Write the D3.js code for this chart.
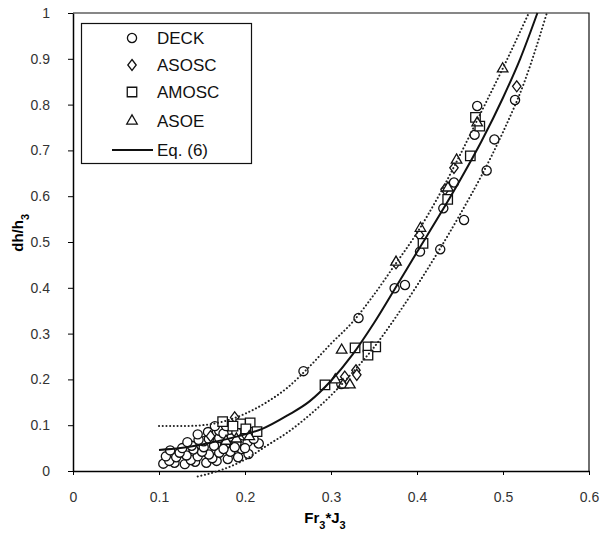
<!DOCTYPE html>
<html>
<head>
<meta charset="utf-8">
<script src="https://cdn.jsdelivr.net/npm/d3@7"></script>
<style>
  body { margin: 0; background: #fff; }
  text { font-family: Arial, "Liberation Sans", sans-serif; }
</style>
</head>
<body>
<div id="chart"></div>
<script>
// values
const xTicks = [0, 0.1, 0.2, 0.3, 0.4, 0.5, 0.6]
const xTickLabels = ["0", "0.1", "0.2", "0.3", "0.4", "0.5", "0.6"]
const yTicks = [0, 0.1, 0.2, 0.3, 0.4, 0.5, 0.6, 0.7, 0.8, 0.9, 1]
const yTickLabels = ["0", "0.1", "0.2", "0.3", "0.4", "0.5", "0.6", "0.7", "0.8", "0.9", "1"]

const deck = [
  [0.105, 0.016], [0.118, 0.018], [0.13, 0.015], [0.142, 0.02], [0.155, 0.018], [0.167, 0.022],
  [0.18, 0.026], [0.192, 0.03], [0.204, 0.037],
  [0.112, 0.022], [0.137, 0.024], [0.162, 0.028],
  [0.108, 0.032], [0.12, 0.03], [0.132, 0.034], [0.145, 0.032], [0.158, 0.036], [0.17, 0.04],
  [0.183, 0.042], [0.196, 0.048], [0.124, 0.04], [0.15, 0.042],
  [0.113, 0.045], [0.127, 0.05], [0.14, 0.047], [0.152, 0.052], [0.164, 0.055], [0.177, 0.058],
  [0.19, 0.06], [0.203, 0.063], [0.216, 0.06], [0.175, 0.048], [0.188, 0.052], [0.2, 0.05],
  [0.138, 0.055], [0.152, 0.065], [0.21, 0.07],
  [0.133, 0.063], [0.146, 0.068], [0.158, 0.07], [0.17, 0.072], [0.183, 0.075], [0.197, 0.078],
  [0.145, 0.08], [0.157, 0.085], [0.17, 0.088], [0.182, 0.09], [0.175, 0.082], [0.19, 0.085],
  [0.165, 0.098], [0.178, 0.098],
  [0.268, 0.218], [0.312, 0.19], [0.332, 0.334],
  [0.374, 0.399], [0.386, 0.406], [0.4035, 0.479], [0.427, 0.484], [0.4306, 0.5735],
  [0.443, 0.63], [0.4547, 0.548], [0.467, 0.734], [0.47, 0.797], [0.481, 0.656],
  [0.49, 0.724], [0.514, 0.81]
]
const asosc = [
  [0.188, 0.117], [0.16, 0.076], [0.2, 0.08],
  [0.316, 0.206], [0.329, 0.22], [0.33, 0.21],
  [0.3756, 0.4535], [0.403, 0.515], [0.4326, 0.615], [0.443, 0.662], [0.516, 0.84]
]
const amosc = [
  [0.174, 0.108], [0.195, 0.103], [0.206, 0.105], [0.214, 0.086], [0.186, 0.098], [0.201, 0.092],
  [0.293, 0.188], [0.328, 0.269], [0.343, 0.271], [0.352, 0.271], [0.343, 0.253],
  [0.407, 0.497], [0.4357, 0.593], [0.462, 0.688], [0.468, 0.772], [0.473, 0.753]
]
const asoe = [
  [0.19, 0.07], [0.205, 0.075], [0.178, 0.065],
  [0.305, 0.199], [0.3124, 0.264], [0.314, 0.188], [0.322, 0.188],
  [0.3756, 0.456], [0.404, 0.53], [0.436, 0.618], [0.446, 0.679], [0.47, 0.76], [0.4996, 0.878]
]

const eq6 = [
  [0.1, 0.046], [0.125, 0.05], [0.15, 0.058], [0.175, 0.068], [0.2, 0.08], [0.22, 0.092],
  [0.25, 0.122], [0.275, 0.152], [0.3, 0.197], [0.325, 0.254], [0.35, 0.323], [0.375, 0.4],
  [0.4, 0.478], [0.425, 0.555], [0.45, 0.635], [0.475, 0.72], [0.5, 0.815], [0.52, 0.9], [0.54, 1.0]
]
const upperBound = [
  [0.1, 0.098], [0.125, 0.098], [0.15, 0.1], [0.175, 0.108], [0.2, 0.125], [0.225, 0.15],
  [0.25, 0.183], [0.275, 0.228], [0.3, 0.278], [0.325, 0.325], [0.35, 0.385], [0.375, 0.452],
  [0.4, 0.52], [0.425, 0.6], [0.45, 0.69], [0.475, 0.785], [0.5, 0.88], [0.53, 1.0]
]
const lowerBound = [
  [0.145, -0.012], [0.16, -0.005], [0.175, 0.004], [0.2, 0.025], [0.225, 0.055], [0.25, 0.085],
  [0.275, 0.122], [0.3, 0.165], [0.325, 0.215], [0.35, 0.27], [0.375, 0.335], [0.4, 0.405],
  [0.425, 0.48], [0.45, 0.56], [0.475, 0.645], [0.5, 0.74], [0.525, 0.85], [0.551, 1.0]
]

const legendItems = ["DECK", "ASOSC", "AMOSC", "ASOE", "Eq. (6)"]

const width = 611
const height = 535
const margin = ({top: 13, right: 22, bottom: 64, left: 73})

const svg = d3.select("#chart").append("svg")
  .attr("width", width)
  .attr("height", height)

const x = d3.scaleLinear()
  .domain([0, 0.6])
  .range([margin.left, width - margin.right])

const y = d3.scaleLinear()
  .domain([0, 1])
  .range([height - margin.bottom, margin.top])

// axes
const xAxis = g => g
  .attr("transform", `translate(0,${y(0)})`)
  .call(d3.axisBottom(x).tickValues(xTicks).tickFormat((d, i) => xTickLabels[i])
    .tickSize(4).tickPadding(17).tickSizeOuter(0))
  .call(g => g.select(".domain").attr("stroke-width", 1.5))
  .call(g => g.selectAll("text").attr("font-size", 14).attr("fill", "#333"))

const yAxis = g => g
  .attr("transform", `translate(${x(0)},0)`)
  .call(d3.axisLeft(y).tickValues(yTicks).tickFormat((d, i) => yTickLabels[i])
    .tickSize(5).tickPadding(18).tickSizeOuter(0))
  .call(g => g.select(".domain").attr("stroke-width", 1.5))
  .call(g => g.selectAll("text").attr("font-size", 14).attr("fill", "#333"))

// frame on top and right
svg.append("path")
  .attr("d", `M${x(0)},${y(1)}H${x(0.6)}V${y(0)}`)
  .attr("fill", "none")
  .attr("stroke", "#111")
  .attr("stroke-width", 1.2)

svg.append("g").call(xAxis)
svg.append("g").call(yAxis)

// axis titles
svg.append("text")
  .attr("x", x(0.3) - 6)
  .attr("y", 523)
  .attr("text-anchor", "middle")
  .attr("font-size", 15)
  .attr("font-weight", "bold")
  .html('Fr<tspan baseline-shift="sub" font-size="11">3</tspan>*J<tspan baseline-shift="sub" font-size="11">3</tspan>')

svg.append("text")
  .attr("transform", `translate(23,${y(0.52)}) rotate(-90)`)
  .attr("text-anchor", "middle")
  .attr("font-size", 15)
  .attr("font-weight", "bold")
  .html('dh/h<tspan baseline-shift="sub" font-size="11">3</tspan>')

// markers
const diamondPath = "M0,-5.5L4.2,0L0,5.5L-4.2,0Z"
const marker = {
  circle: d3.symbol(d3.symbolCircle, 66)(),
  diamond: diamondPath,
  square: d3.symbol(d3.symbolSquare, 90)(),
  triangle: d3.symbol(d3.symbolTriangle, 48)()
}

function plotPoints(data, shape){
  svg.append("g")
    .selectAll("path")
    .data(data)
    .join("path")
    .attr("transform", d => `translate(${x(d[0])},${y(d[1])})`)
    .attr("d", marker[shape])
    .attr("fill", "#fff")
    .attr("stroke", "#111")
    .attr("stroke-width", 1.3)
}

plotPoints(deck, "circle")
plotPoints(asosc, "diamond")
plotPoints(amosc, "square")
plotPoints(asoe, "triangle")

// curves
const line = d3.line()
  .x(d => x(d[0]))
  .y(d => y(d[1]))
  .curve(d3.curveMonotoneX)

svg.append("path")
  .attr("d", line(eq6))
  .attr("fill", "none")
  .attr("stroke", "#111")
  .attr("stroke-width", 2)

for (const bound of [upperBound, lowerBound]) {
  svg.append("path")
    .attr("d", line(bound))
    .attr("fill", "none")
    .attr("stroke", "#222")
    .attr("stroke-width", 2)
    .attr("stroke-linecap", "round")
    .attr("stroke-dasharray", "0.1,3.6")
}

// legend
const legend = svg.append("g")

legend.append("rect")
  .attr("x", 81.5)
  .attr("y", 23.5)
  .attr("width", 170)
  .attr("height", 140)
  .attr("fill", "#fff")
  .attr("stroke", "#111")
  .attr("stroke-width", 1.2)

const legendShapes = ["circle", "diamond", "square", "triangle"]
const legendRows = [38, 65, 92, 121, 150]

legendItems.forEach((name, i) => {
  const ly = legendRows[i]
  if (i < 4) {
    legend.append("path")
      .attr("transform", `translate(132,${ly})`)
      .attr("d", marker[legendShapes[i]])
      .attr("fill", "#fff")
      .attr("stroke", "#111")
      .attr("stroke-width", 1.3)
  } else {
    legend.append("line")
      .attr("x1", 112).attr("x2", 153)
      .attr("y1", ly).attr("y2", ly)
      .attr("stroke", "#111")
      .attr("stroke-width", 2)
  }
  legend.append("text")
    .attr("x", 157)
    .attr("y", ly)
    .attr("dy", "0.36em")
    .attr("font-size", 17)
    .attr("fill", "#111")
    .text(name)
})
</script>
</body>
</html>
